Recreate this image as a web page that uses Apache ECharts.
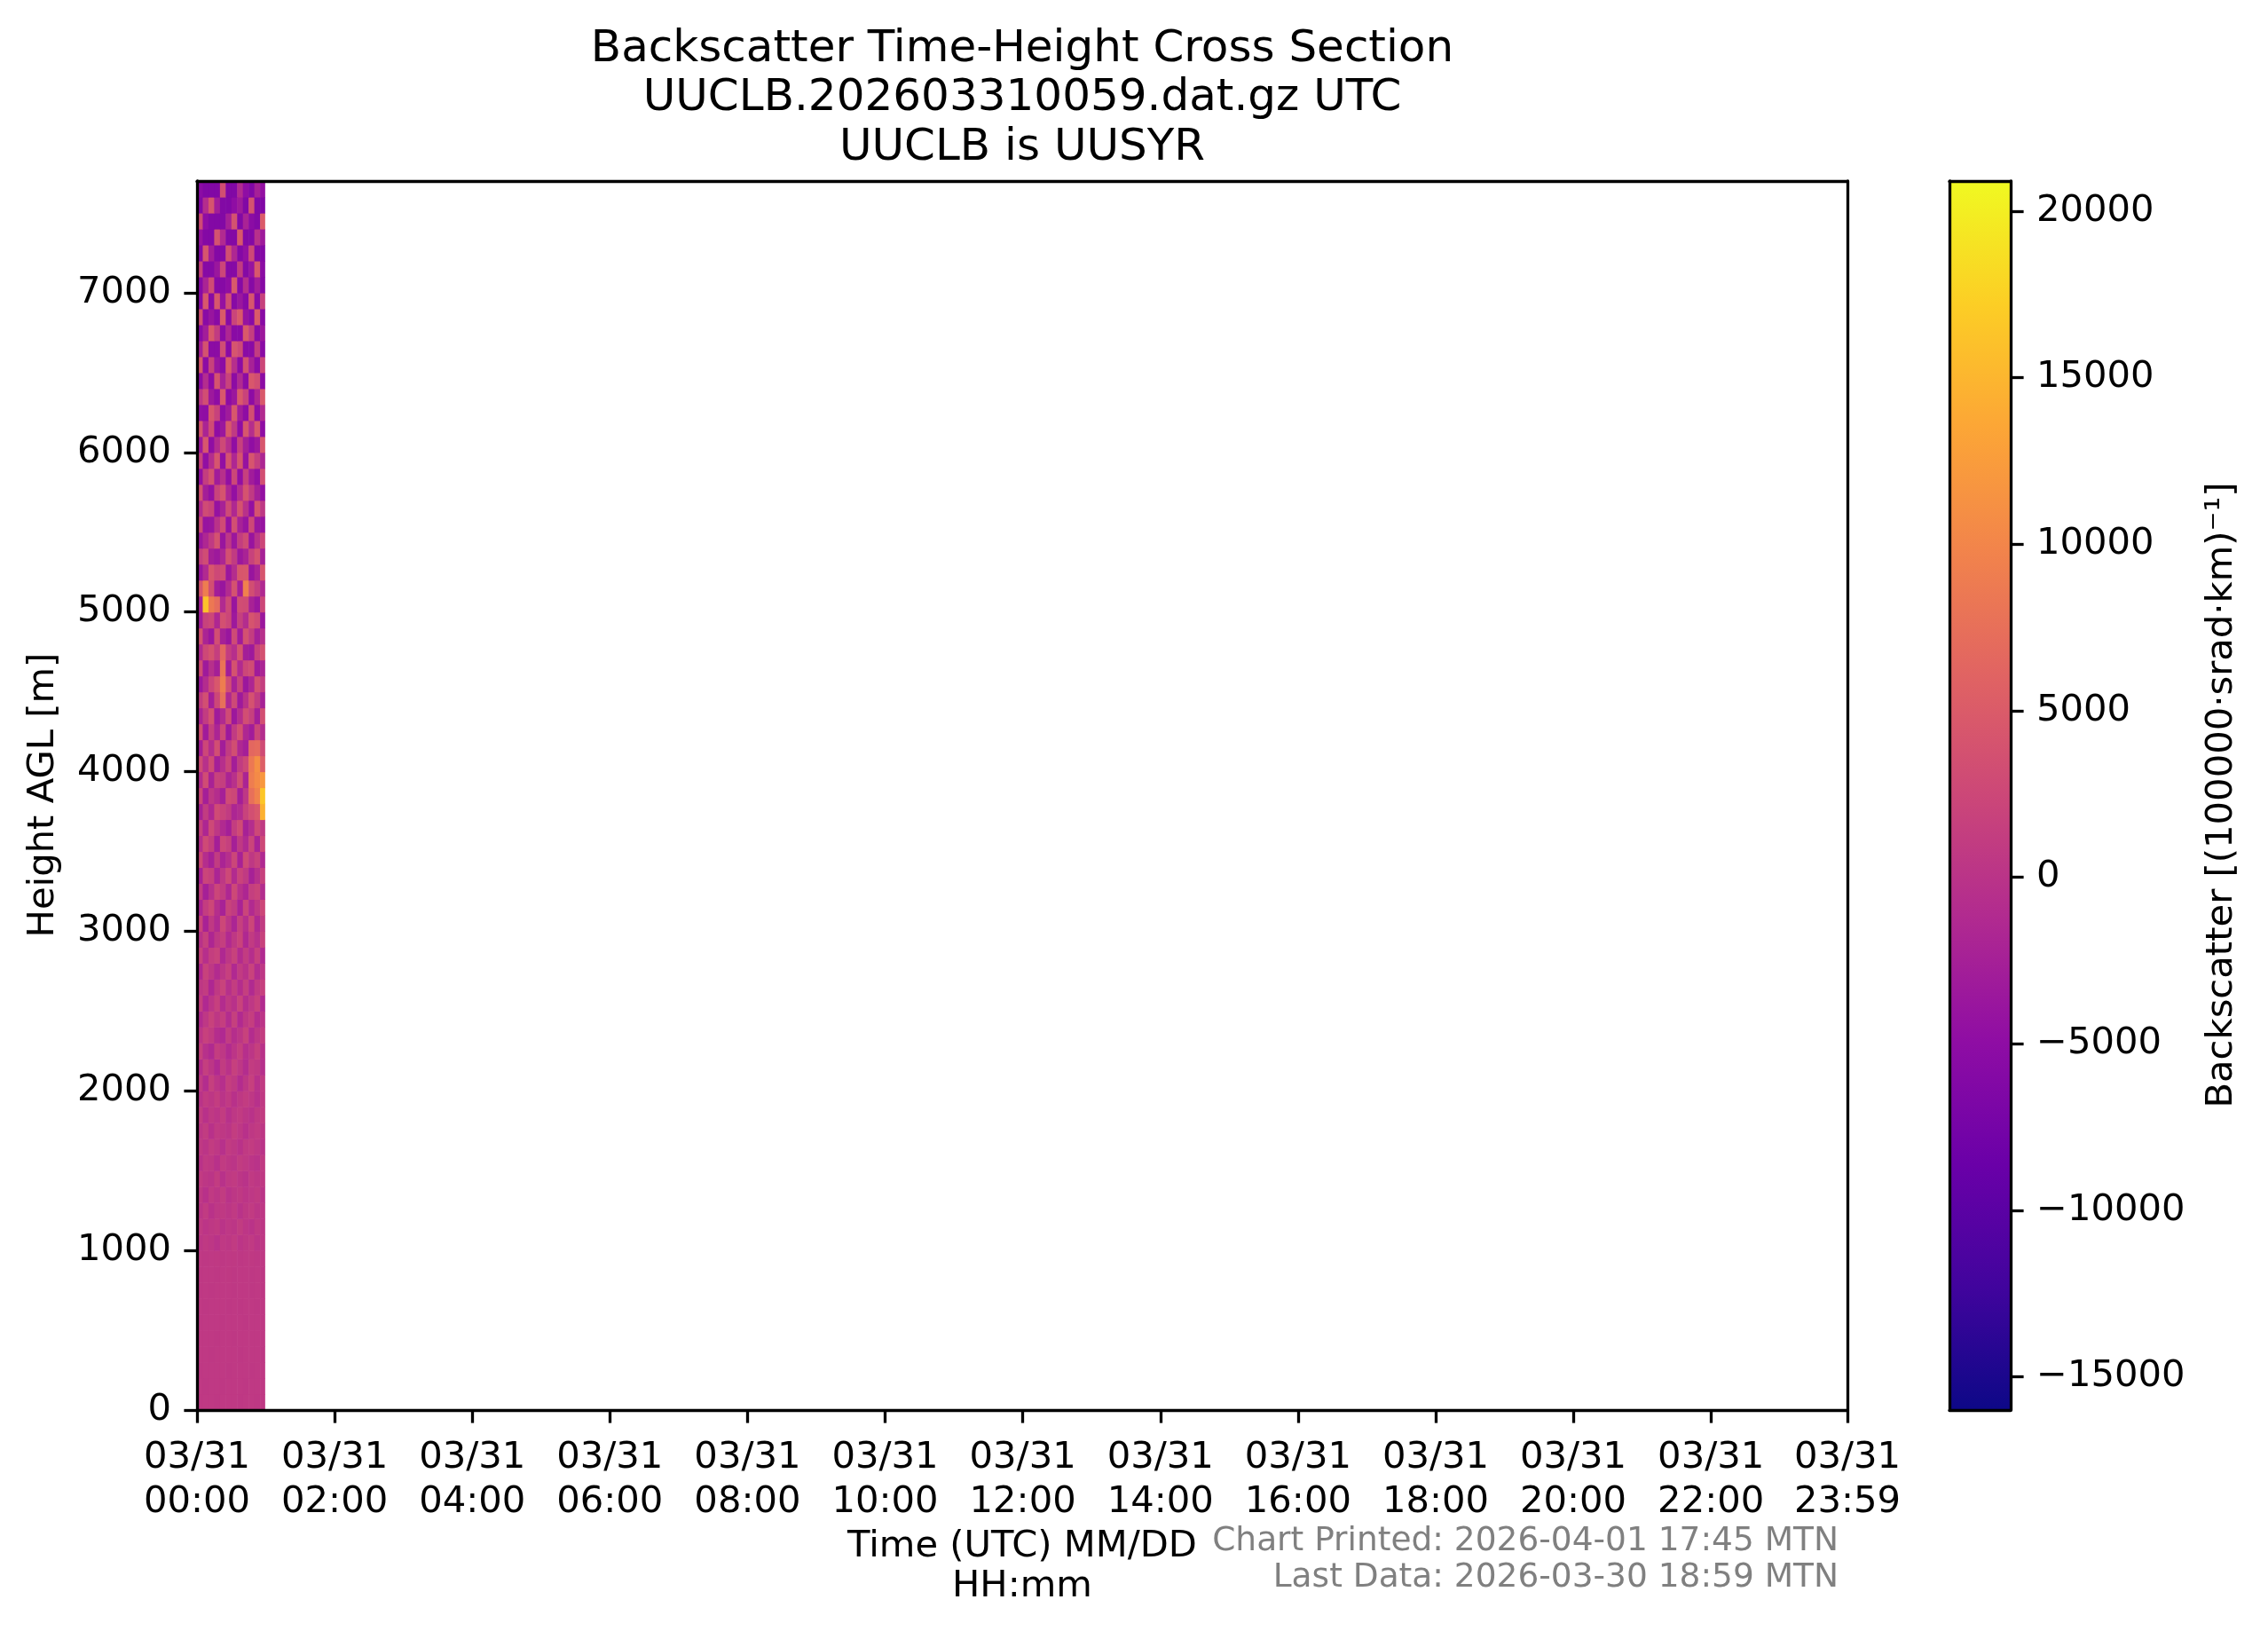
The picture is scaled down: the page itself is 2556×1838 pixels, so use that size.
<!DOCTYPE html>
<html><head><meta charset="utf-8">
<script src="https://cdn.jsdelivr.net/npm/echarts@6/dist/echarts.min.js"></script>
<style>html,body{margin:0;padding:0;background:#fff}#chart{width:2556px;height:1838px}</style>
</head><body><div id="chart"></div>
<script>
const titleLines = ['Backscatter Time-Height Cross Section', 'UUCLB.202603310059.dat.gz UTC', 'UUCLB is UUSYR'];
const xAxisTitle = ['Time (UTC) MM/DD', 'HH:mm'];
const yAxisTitle = 'Height AGL [m]';
const cbarTitle = 'Backscatter [(100000\u00b7srad\u00b7km)\u207b\u00b9]';
const footerLines = ['Chart Printed: 2026-04-01 17:45 MTN', 'Last Data: 2026-03-30 18:59 MTN'];

// time bin edges (minutes after 03/31 00:00 UTC)
const timeEdges = [0, 5, 10, 15, 20, 25, 30, 35, 40, 45, 50, 55, 59];
// height bin edges (m AGL)
const heightEdges = [0,100,200,300,400,500,600,700,800,900,1000,1100,1200,1300,1400,1500,1600,1700,1800,1900,2000,2100,2200,2300,2400,2500,2600,2700,2800,2900,3000,3100,3200,3300,3400,3500,3600,3700,3800,3900,4000,4100,4200,4300,4400,4500,4600,4700,4800,4900,5000,5100,5200,5300,5400,5500,5600,5700,5800,5900,6000,6100,6200,6300,6400,6500,6600,6700,6800,6900,7000,7100,7200,7300,7400,7500,7600,7700];

// backscatter values, one row per height bin (bottom to top), one value per time bin
const backscatter = [
[600,620,610,600,620,630,610,600,620,610,600,610],
[620,600,630,610,600,620,640,610,600,630,620,610],
[600,640,610,630,620,600,610,640,620,600,610,630],
[630,610,600,640,610,630,620,600,640,620,630,600],
[610,650,620,600,640,610,600,630,610,650,620,640],
[580,620,660,610,590,640,620,650,600,610,660,620],
[640,590,620,670,610,580,650,600,640,620,590,650],
[600,660,580,620,680,620,590,660,610,580,640,600],
[560,620,680,590,610,700,560,620,680,600,650,580],
[650,540,610,690,560,620,710,580,610,690,560,640],
[300,700,450,-100,650,400,900,200,550,750,100,600],
[800,200,600,850,0,500,300,1000,350,-50,700,450],
[150,900,-200,500,700,250,800,-100,600,900,300,500],
[600,-300,750,300,1000,-150,450,700,200,500,850,100],
[900,400,100,1100,-250,650,950,300,-100,800,400,700],
[-200,800,600,-300,900,400,100,1000,650,200,-150,850],
[700,100,1100,500,-400,900,600,-200,800,1100,500,0],
[300,1000,-350,800,600,100,1200,500,-300,600,900,400],
[1000,-300,700,200,1100,-400,500,900,300,-200,700,1100],
[-100,900,400,1200,0,800,-300,600,1100,500,-400,800],
[800,-900,1500,200,-600,1300,700,-1000,400,1600,-300,900],
[-700,1400,300,-1200,1000,-200,1600,500,-900,1100,700,-500],
[1500,-400,-1300,1200,500,-1100,200,1400,-600,300,1500,-200],
[200,1700,900,-800,-1400,1000,-700,300,1800,-1000,400,1200],
[-1100,500,1800,400,1300,-900,1500,-1200,600,1300,-800,200],
[1300,-1400,200,1600,-1000,700,-300,1900,-700,500,1700,-1100],
[400,1100,-1600,700,1900,-500,1200,-800,1400,-1300,800,1600],
[-1500,1800,600,-1100,300,1600,-1400,900,-200,1900,-900,500],
[1700,-600,1300,1900,-1500,400,1800,-1000,1100,-700,1600,-1200],
[-300,1500,-1700,500,1400,-1200,600,2000,-1500,900,-400,1800],
[2000,-2200,700,-1300,2400,300,-1900,1500,-600,2300,-1500,1000],
[-1800,1200,2500,-700,-2300,1800,900,-2100,2200,-1200,600,2400],
[900,-2500,-400,2300,1100,-1600,2600,-300,-1700,1400,2100,-900],
[-2300,2200,1600,-1900,500,2700,-1100,2000,800,-2400,-500,1700],
[2600,-800,-2400,1000,-2000,-600,2300,-2200,2800,600,1800,-1400],
[-600,2800,1300,-2600,2500,1500,-2500,700,-1300,2200,-2100,2600],
[1600,-1700,2700,400,-1200,-2600,1200,2900,-2400,-800,2600,800],
[-2400,1000,-1500,2900,2000,900,-1800,-900,1900,3500,4500,14500],
[2300,-2700,600,-800,-2500,3000,2400,-2600,500,7500,9500,16500],
[-1000,3100,-2200,1800,1400,-2000,-300,3200,-2000,9000,10500,12000],
[2800,-400,2900,-2700,-600,2200,-2800,1000,2600,8500,11000,5500],
[-2600,2400,-900,3300,-2900,1000,3400,-1500,-2700,6500,7000,2900],
[3400,-3100,1500,-1900,2600,-3400,900,3600,-1600,-3000,2200,-800],
[-2000,1100,3700,-3200,-1300,2900,-3500,-700,3300,1600,-2800,3500],
[1200,3500,-2700,2400,7500,-1500,2700,-3300,-200,3800,1000,-2300],
[-3500,-1000,2300,4500,9000,3400,-2300,1800,-3600,-1700,3600,1400],
[2900,-3300,-500,-2600,8000,-2900,3900,-1200,2400,3100,-3100,-1900],
[-1200,2600,3900,1300,6500,1200,-600,4000,-2800,-3400,1700,3700],
[3800,-2000,-3600,3300,-2400,-3800,2800,-3000,3700,1200,-2500,-400],
[-3000,1800,2400,-1600,3600,2300,-3400,1500,-900,4100,2900,-3600],
[-2400,16000,8500,7000,-1200,2700,-3900,3200,3000,-2200,-3700,2500],
[4200,9000,3500,-2900,-3900,-1100,3800,-2500,9500,3400,1300,-1400],
[-3800,-1200,4300,2600,3100,-3600,-800,4400,4500,-3900,-2100,4200],
[1500,3200,-2600,-3400,-1800,3600,900,-3500,-2100,1800,3900,-2400],
[-3700,-1600,800,3800,-3900,500,-3600,1200,2900,-4000,-400,2400],
[2700,-4100,-3800,-200,3000,-4200,3500,-2300,-4000,2600,-3700,-4100],
[-1100,2900,2000,-4300,-2300,2800,-1500,3900,-300,-4400,4000,600],
[3700,-2800,-4400,1900,4100,-1600,-4500,-700,4000,800,-2500,-4500],
[-4500,1300,3800,-3000,-500,-4600,2400,-4600,1600,-3000,-4600,3500],
[1700,-4700,-800,4200,-4700,3800,-1600,4100,-4200,4200,1400,-1700],
[-3400,4300,-4800,-1100,2700,-600,-4800,1600,-2600,-4800,-3500,4300],
[4200,-2000,2900,-4900,-3700,4600,800,-4900,4400,-700,4500,-4900],
[-4700,-4900,4300,1800,-5000,-3100,4500,-2900,-5000,3400,-5000,-1100],
[500,3300,-3400,-5000,4500,-5100,-3600,4700,2000,-5100,-1700,4700],
[-5100,-900,-5100,4000,-2300,1900,-5200,-1300,-5200,4500,3400,-5200],
[4400,-5200,1800,-3800,-5300,4700,-600,-5300,3600,-2300,-5300,2400],
[-2500,3900,-5300,-5300,3200,-5400,4200,2800,-5400,-5400,1100,-5400],
[-5400,-2900,4600,1000,-5400,-1600,-5500,-5500,4800,1300,-5500,-3500],
[3500,-5500,-3900,-5600,4900,-5600,2200,4800,-4200,-5600,4900,-5600],
[-5600,4500,-5600,4300,-4400,3200,-5700,-3700,-5700,4200,-5700,1800],
[-5700,-2000,3000,-5700,-5800,-4800,4700,-5800,-700,-5800,-2900,-5800],
[1800,-5800,-5900,-3700,2300,-5900,-5900,1000,-5900,-4100,4500,-5300],
[-5900,4200,-2900,-6000,-6000,3400,-1600,-6000,-4500,2600,-6000,-6000],
[-4100,-6000,-6100,3800,-1200,-6100,-6100,4600,-6100,-6100,-400,-3300],
[3000,-4900,-6100,-6200,-6200,-2500,3800,-6200,-2100,-5300,-6200,5000],
[-6200,-800,4200,-2900,-6200,-6300,-4900,-3300,-6300,3800,-6300,-6300],
[-5300,-6300,-6300,-6300,3400,-6300,-6300,-1200,-4900,-6300,-2500,-4500]
];

const xTickMinutes = [0, 120, 240, 360, 480, 600, 720, 840, 960, 1080, 1200, 1320, 1439];
const xTickLabels = ['03/31\n00:00','03/31\n02:00','03/31\n04:00','03/31\n06:00','03/31\n08:00','03/31\n10:00','03/31\n12:00','03/31\n14:00','03/31\n16:00','03/31\n18:00','03/31\n20:00','03/31\n22:00','03/31\n23:59'];
const yTicks = [0, 1000, 2000, 3000, 4000, 5000, 6000, 7000];
const cbarTicks = [-15000, -10000, -5000, 0, 5000, 10000, 15000, 20000];
const xMin = 0, xMax = 1439, yMin = 0, yMax = 7700;
const cbarMin = -16000, cbarMax = 20900;

const plasma = ['#0d0887','#41049d','#6a00a8','#8f0da4','#b12a90','#cc4778','#e16462','#f2844b','#fca636','#fcce25','#f0f921'];

const FONT = 'DejaVu Sans';
const LW = 3.3, TICKLEN = 14.6, FS = 41.7;

const cells = [];
for (let r = 0; r < backscatter.length; r++) {
  for (let c = 0; c < backscatter[r].length; c++) {
    cells.push([timeEdges[c], timeEdges[c + 1], heightEdges[r], heightEdges[r + 1], backscatter[r][c]]);
  }
}

const chart = echarts.init(document.getElementById('chart'), null, {renderer: 'canvas'});
const lineStyle = {color: '#000', width: LW};
const labelStyle = {color: '#000', fontFamily: FONT, fontSize: FS};

const option = {
  animation: false,
  backgroundColor: '#fff',
  grid: [
    {left: 222, top: 204, width: 1860, height: 1385, show: false},
    {left: 2197, top: 204, width: 69, height: 1385, show: false}
  ],
  xAxis: [
    {type: 'value', gridIndex: 0, min: xMin, max: xMax, position: 'bottom', z: 10,
      axisLine: {show: true, lineStyle}, splitLine: {show: false},
      axisTick: {show: true, inside: false, length: TICKLEN, lineStyle, customValues: xTickMinutes},
      axisLabel: {show: true, ...labelStyle, lineHeight: 50, margin: 29, customValues: xTickMinutes,
        showMinLabel: true, showMaxLabel: true, hideOverlap: false,
        formatter: v => xTickLabels[xTickMinutes.indexOf(Math.round(v))]}},
    {type: 'value', gridIndex: 0, min: xMin, max: xMax, position: 'top', z: 10,
      axisLine: {show: true, onZero: false, lineStyle}, splitLine: {show: false}, axisTick: {show: false}, axisLabel: {show: false}},
    {type: 'value', gridIndex: 1, min: 0, max: 1, position: 'bottom', z: 10,
      axisLine: {show: true, onZero: false, lineStyle}, splitLine: {show: false}, axisTick: {show: false}, axisLabel: {show: false}},
    {type: 'value', gridIndex: 1, min: 0, max: 1, position: 'top', z: 10,
      axisLine: {show: true, onZero: false, lineStyle}, splitLine: {show: false}, axisTick: {show: false}, axisLabel: {show: false}}
  ],
  yAxis: [
    {type: 'value', gridIndex: 0, min: yMin, max: yMax, position: 'left', z: 10,
      axisLine: {show: true, onZero: false, lineStyle}, splitLine: {show: false},
      axisTick: {show: true, inside: false, length: TICKLEN, lineStyle, customValues: yTicks},
      axisLabel: {show: true, ...labelStyle, margin: 29, customValues: yTicks, showMinLabel: true, showMaxLabel: true,
        hideOverlap: false, formatter: v => String(v)}},
    {type: 'value', gridIndex: 0, min: yMin, max: yMax, position: 'right', z: 10,
      axisLine: {show: true, onZero: false, lineStyle}, splitLine: {show: false}, axisTick: {show: false}, axisLabel: {show: false}},
    {type: 'value', gridIndex: 1, min: cbarMin, max: cbarMax, position: 'right', z: 10,
      axisLine: {show: true, onZero: false, lineStyle}, splitLine: {show: false},
      axisTick: {show: true, inside: false, length: TICKLEN, lineStyle, customValues: cbarTicks},
      axisLabel: {show: true, ...labelStyle, margin: 29, customValues: cbarTicks, showMinLabel: true, showMaxLabel: true,
        hideOverlap: false, formatter: v => String(v).replace('-', '\u2212')}},
    {type: 'value', gridIndex: 1, min: cbarMin, max: cbarMax, position: 'left', z: 10,
      axisLine: {show: true, onZero: false, lineStyle}, splitLine: {show: false}, axisTick: {show: false}, axisLabel: {show: false}}
  ],
  visualMap: [{
    type: 'continuous', show: false, min: cbarMin, max: cbarMax, dimension: 4, seriesIndex: 0,
    inRange: {color: plasma}
  }],
  series: [
    {
      type: 'custom', xAxisIndex: 0, yAxisIndex: 0, z: 2, data: cells,
      encode: {x: [0, 1], y: [2, 3]},
      renderItem: (params, api) => {
        const p0 = api.coord([api.value(0), api.value(3)]);
        const p1 = api.coord([api.value(1), api.value(2)]);
        return {type: 'rect', shape: {x: p0[0], y: p0[1], width: p1[0] - p0[0] + 0.6, height: p1[1] - p0[1] + 0.6},
          style: {fill: api.visual('color')}};
      }
    },
    {
      type: 'custom', xAxisIndex: 2, yAxisIndex: 2, z: 2, data: [[0, 1, cbarMin, cbarMax]],
      encode: {x: [0, 1], y: [2, 3]},
      renderItem: (params, api) => {
        const p0 = api.coord([api.value(0), api.value(3)]);
        const p1 = api.coord([api.value(1), api.value(2)]);
        const stops = plasma.map((c, i) => ({offset: i / (plasma.length - 1), color: c}));
        return {type: 'rect', shape: {x: p0[0], y: p0[1], width: p1[0] - p0[0], height: p1[1] - p0[1]},
          style: {fill: new echarts.graphic.LinearGradient(0, 1, 0, 0, stops)}};
      }
    }
  ],
  graphic: [
    ...titleLines.map((t, i) => ({type: 'text', x: 1152, y: 56 + i * 55.5, z: 20,
      style: {text: t, fill: '#000', font: '50px "DejaVu Sans"', textAlign: 'center', textVerticalAlign: 'middle'}})),
    ...xAxisTitle.map((t, i) => ({type: 'text', x: 1152, y: 1743 + i * 45, z: 20,
      style: {text: t, fill: '#000', font: FS + 'px "DejaVu Sans"', textAlign: 'center', textVerticalAlign: 'middle'}})),
    ...footerLines.map((t, i) => ({type: 'text', x: 2072, y: 1737 + i * 41, z: 20,
      style: {text: t, fill: '#808080', font: '37.5px "DejaVu Sans"', textAlign: 'right', textVerticalAlign: 'middle'}})),
    {type: 'text', x: 49, y: 896, rotation: Math.PI / 2, z: 20,
      style: {text: yAxisTitle, fill: '#000', font: FS + 'px "DejaVu Sans"', textAlign: 'center', textVerticalAlign: 'middle'}},
    {type: 'text', x: 2504, y: 896, rotation: Math.PI / 2, z: 20,
      style: {text: cbarTitle, fill: '#000', font: FS + 'px "DejaVu Sans"', textAlign: 'center', textVerticalAlign: 'middle'}}
  ]
};
chart.setOption(option);
</script>
</body></html>
